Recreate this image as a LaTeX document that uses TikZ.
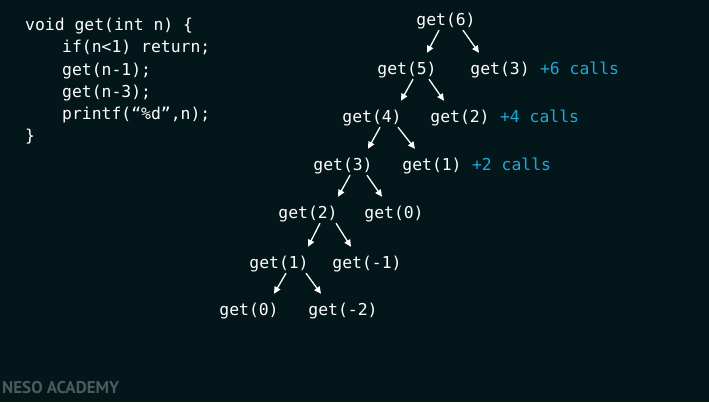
\documentclass[tikz,border=0pt]{standalone}
\usepackage{fontspec}
\usepackage{tikz}
\usetikzlibrary{arrows.meta,positioning}
\setmonofont{DejaVu Sans Mono}
\newfontfamily\nesofont{PT Sans}
\definecolor{board}{RGB}{3,23,26}
\definecolor{callcyan}{RGB}{27,168,218}
\definecolor{nesogray}{RGB}{72,92,92}
\begin{document}
\begin{tikzpicture}[x = 1pt, y = -1pt,
                    code/.style = {anchor = base west, inner sep = 0, text = white,
                                   font = \ttfamily\fontsize{16.4}{20}\selectfont},
                    call/.style = {anchor = base, inner sep = 0, text = white,
                                   text height = 21pt, text depth = 5pt,
                                   font = \ttfamily\fontsize{16.4}{20}\selectfont},
                    extra/.style = {inner sep = 0, text = callcyan,
                                    font = \ttfamily\fontsize{16.4}{20}\selectfont},
                    arr/.style = {draw = white, line width = 1.3pt,
                                  -{Triangle[length = 7pt, width = 6.5pt]}}]
      \fill [board] (0, 0) rectangle (709, 402);
      \useasboundingbox (0, 0) rectangle (709, 402);

      % the function
      \node [code] (l1) at (25, 30){void get(int n) \{};
      \node [code] (l2) at (62, 52){if(n<1) return;};
      \node [code] (l3) at (62, 75){get(n-1);};
      \node [code] (l4) at (62, 97){get(n-3);};
      \node [code] (l5) at (62, 119){printf(“\%d”,n);};
      \node [code] (l6) at (25, 141){\}};

      % the calls
      \node [call] (g6) at (446, 25){get(6)};
      \node [call] (g5) at (407, 74){get(5)};
      \node [call] (g3a) at (500, 74){get(3)};
      \node [call] (g4) at (372, 122){get(4)};
      \node [call] (g2a) at (460, 122){get(2)};
      \node [call] (g3b) at (343, 170){get(3)};
      \node [call] (g1a) at (432, 170){get(1)};
      \node [call] (g2b) at (308, 218){get(2)};
      \node [call] (g0a) at (394, 218){get(0)};
      \node [call] (g1b) at (279, 268){get(1)};
      \node [call] (gm1) at (367, 268){get(-1)};
      \node [call] (g0b) at (249, 315){get(0)};
      \node [call] (gm2) at (343, 315){get(-2)};

      \node [extra, base right = 10pt of g3a] (c6){+6 calls};
      \node [extra, base right = 10pt of g2a] (c4){+4 calls};
      \node [extra, base right = 10pt of g1a] (c2){+2 calls};

      \foreach \p/\c/\a/\b in {g6/g5/-7/20, g6/g3a/17/-21, g5/g4/6/29, g5/g2a/22/-16,
                               g4/g3b/8/25, g4/g1a/26/-17, g3b/g2b/7/30, g3b/g0a/24/-12,
                               g2b/g1b/12/29, g2b/gm1/28/-16, g1b/g0b/7/25, g1b/gm2/27/-22}
        \draw [arr] ([xshift = \a pt]\p.south) -- ([xshift = \b pt]\c.north);

      \node [anchor = base west, inner sep = 0, text = nesogray,
             font = \nesofont\bfseries\fontsize{17}{20}\selectfont] (neso) at (2, 393){NESO ACADEMY};
      \end{tikzpicture}
\end{document}
